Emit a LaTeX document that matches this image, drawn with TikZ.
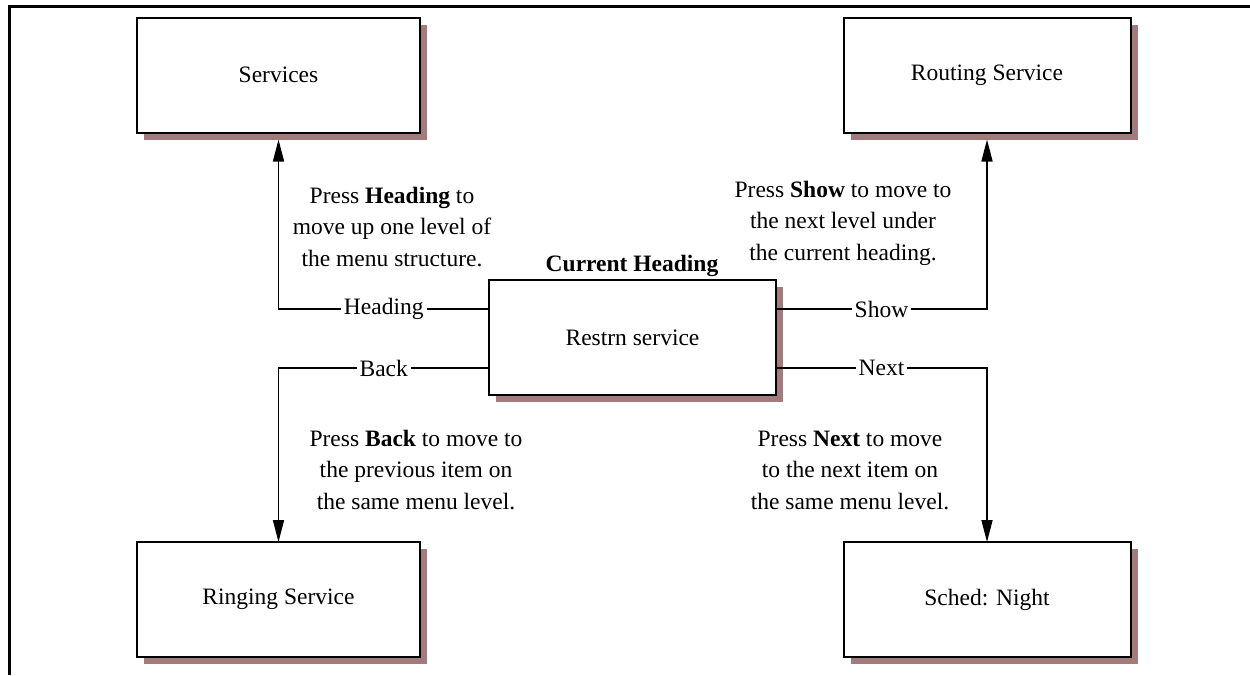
\documentclass[tikz,border=0pt]{standalone}
\usepackage{fontspec}
\setmainfont{Liberation Serif}
\usetikzlibrary{arrows.meta,shadows}
\definecolor{shadowred}{RGB}{163,123,125}
\begin{document}
\begin{tikzpicture}[x=1pt, y=-1pt,
    every node/.style={font=\fontsize{23.5}{31.5}\selectfont},
    menubox/.style={draw, line width=2pt, fill=white, minimum width=287pt, minimum height=115pt,
        inner sep=0pt, outer sep=0pt,
        drop shadow={shadow xshift=7pt, shadow yshift=-7pt, fill=shadowred, opacity=1}},
    keyline/.style={line width=1.6pt},
    keyarrow/.style={keyline, -{Triangle[length=22pt, width=11pt]}},
    keylabel/.style={fill=white, inner xsep=3pt, inner ysep=1pt},
    hint/.style={align=center, inner sep=0pt}]
    % image from (0,0) to (1250,675), y downwards
    \useasboundingbox (0,0) rectangle (1250,675);

    % frame (top and left only)
    \draw[line width=3pt] (1250,6.5) -- (9.5,6.5) -- (9.5,675);

    % Menu boxes
    \node[menubox, minimum width=283pt] (services) at (278.5,75) {Services};
    \node[menubox] (routing) at (987,75) {Routing Service};
    \node[menubox] (restrn) at (632.5,337.5) {Restrn service};
    \node[menubox, minimum width=283pt] (ringing) at (278.5,599.5) {Ringing Service};
    \node[menubox] (sched) at (987,599.5) {Sched: Night};

    \node[anchor=base, font=\fontsize{23.5}{31.5}\selectfont\bfseries] (current) at (632,271) {Current Heading};

    % free ends of the upward arrows, just below the shadows
    \coordinate (servicesin) at ([yshift=-7pt]services.south);
    \coordinate (routingin) at ([yshift=-7pt]routing.south);

    % Keys
    \draw[keyarrow] ([yshift=28.5pt]restrn.west) -| node[keylabel, pos=0.25] {Heading} (servicesin);
    \draw[keyarrow] ([yshift=-30.5pt]restrn.west) -| node[keylabel, pos=0.25] {Back} (ringing.north);
    \draw[keyarrow] ([yshift=28.5pt]restrn.east) -| node[keylabel, pos=0.25] {Show} (routingin);
    \draw[keyarrow] ([yshift=-30.5pt]restrn.east) -| node[keylabel, pos=0.25] {Next} (sched.north);

    % Explanations
    \node[hint] (headinghint) at (392,227) {Press \textbf{Heading} to\\move up one level of\\the menu structure.};
    \node[hint] (showhint) at (843,223) {Press \textbf{Show} to move to\\the next level under\\the current heading.};
    \node[hint] (backhint) at (416,470) {Press \textbf{Back} to move to\\the previous item on\\the same menu level.};
    \node[hint] (nexthint) at (850,470) {Press \textbf{Next} to move\\to the next item on\\the same menu level.};
\end{tikzpicture}
\end{document}
